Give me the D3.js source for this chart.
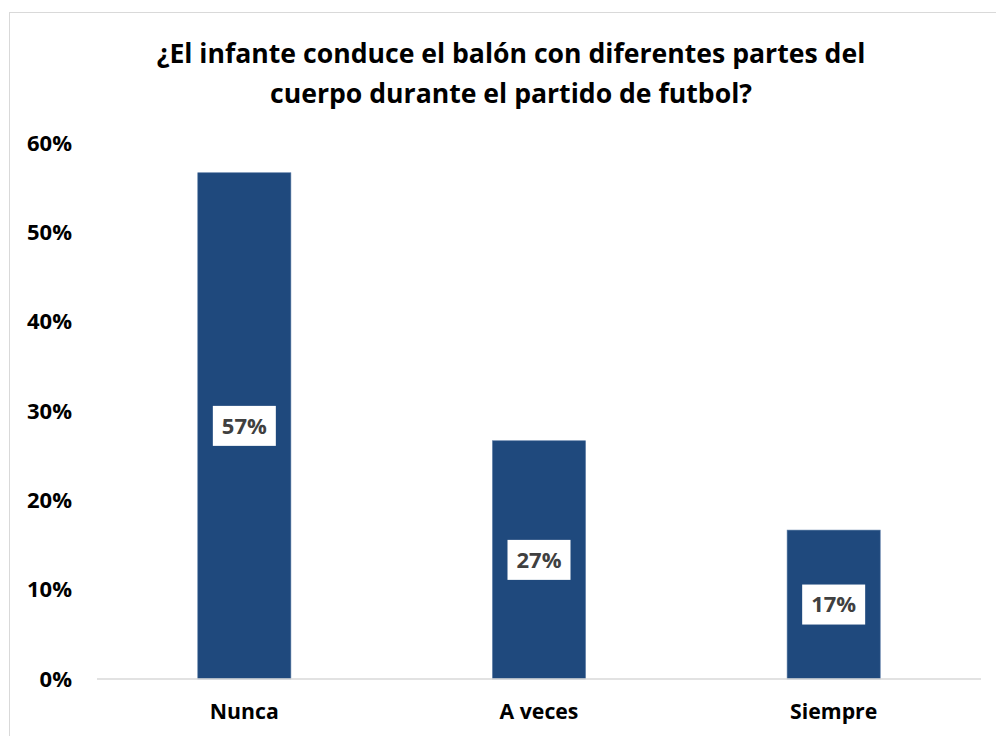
<!DOCTYPE html>
<html><head><meta charset="utf-8">
<script src="https://cdn.jsdelivr.net/npm/d3@7/dist/d3.min.js"></script>
<style>html,body{margin:0;padding:0;background:#fff;}svg{display:block;}</style>
</head><body>
<script>
const categories = ["Nunca", "A veces", "Siempre"];
const values = [0.5667, 0.2667, 0.1667];
const valueLabels = ["57%", "27%", "17%"];
const yTicks = [0, 0.1, 0.2, 0.3, 0.4, 0.5, 0.6];
const titleLines = ["¿El infante conduce el balón con diferentes partes del", "cuerpo durante el partido de futbol?"];

const W = 996, H = 736;
const font = "'Open Sans', Lato, sans-serif";
const svg = d3.select("body").append("svg").attr("width", W).attr("height", H);

// measure helper: font size so that a string reaches a given width
function fitSize(str, target) {
  const t = svg.append("text").attr("font-family", font).attr("font-weight", "bold")
    .attr("font-size", 20).text(str);
  const w = t.node().getComputedTextLength();
  t.remove();
  return 20 * target / w;
}
const titleSize = fitSize(titleLines[0], 709);
const tickSize = fitSize("60%", 45);
const catSize = fitSize("Nunca", 69);
const lblSize = fitSize("57%", 45);

// chart frame
svg.append("rect").attr("x", 9.5).attr("y", 12.5).attr("width", 1000).attr("height", 800)
  .attr("fill", "#fff").attr("stroke", "#d9d9d9").attr("stroke-width", 1);

const x = d3.scaleBand().domain(categories).range([97, 981]).paddingInner(0.684).paddingOuter(0.342);
const y = d3.scaleLinear().domain([0, 0.6]).range([679, 143]);

// title
svg.append("g").selectAll("text").data(titleLines).join("text")
  .attr("x", 511).attr("y", (d, i) => 63 + i * 40)
  .attr("text-anchor", "middle").attr("font-family", font).attr("font-weight", "bold")
  .attr("font-size", titleSize).attr("fill", "#000").text(d => d);

// y axis
const yAxis = d3.axisLeft(y).tickValues(yTicks).tickFormat(d3.format(".0%")).tickSize(0).tickPadding(0);
const ga = svg.append("g").attr("transform", "translate(72,0)").call(yAxis);
ga.select(".domain").remove();
ga.selectAll("text").attr("font-family", font).attr("font-weight", "bold").attr("font-size", tickSize).attr("fill", "#000");

// bars
svg.append("g").selectAll("rect").data(values).join("rect")
  .attr("x", (d, i) => x(categories[i])).attr("width", x.bandwidth())
  .attr("y", d => y(d)).attr("height", d => y(0) - y(d))
  .attr("fill", "#1F497D").attr("stroke", "#5a7ba5").attr("stroke-width", 0.6);

// baseline
svg.append("line").attr("x1", 97).attr("x2", 981).attr("y1", y(0)).attr("y2", y(0))
  .attr("stroke", "#d9d9d9").attr("stroke-width", 1.5);

// x axis
const xAxis = d3.axisBottom(x).tickSize(0).tickPadding(0);
const gx = svg.append("g").attr("transform", "translate(0,704)").call(xAxis);
gx.select(".domain").remove();
gx.selectAll("text").attr("font-family", font).attr("font-weight", "bold").attr("font-size", catSize).attr("fill", "#000");

// data labels
const lg = svg.append("g").selectAll("g").data(values).join("g")
  .attr("transform", (d, i) => `translate(${x(categories[i]) + x.bandwidth() / 2},${(y(d) + y(0)) / 2})`);
lg.append("rect").attr("x", -31.5).attr("y", -20).attr("width", 63).attr("height", 40).attr("fill", "#fff");
lg.append("text").attr("text-anchor", "middle").attr("dy", "0.35em")
  .attr("font-family", font).attr("font-weight", "bold").attr("font-size", lblSize).attr("fill", "#404040")
  .text((d, i) => valueLabels[i]);
</script>
</body></html>
